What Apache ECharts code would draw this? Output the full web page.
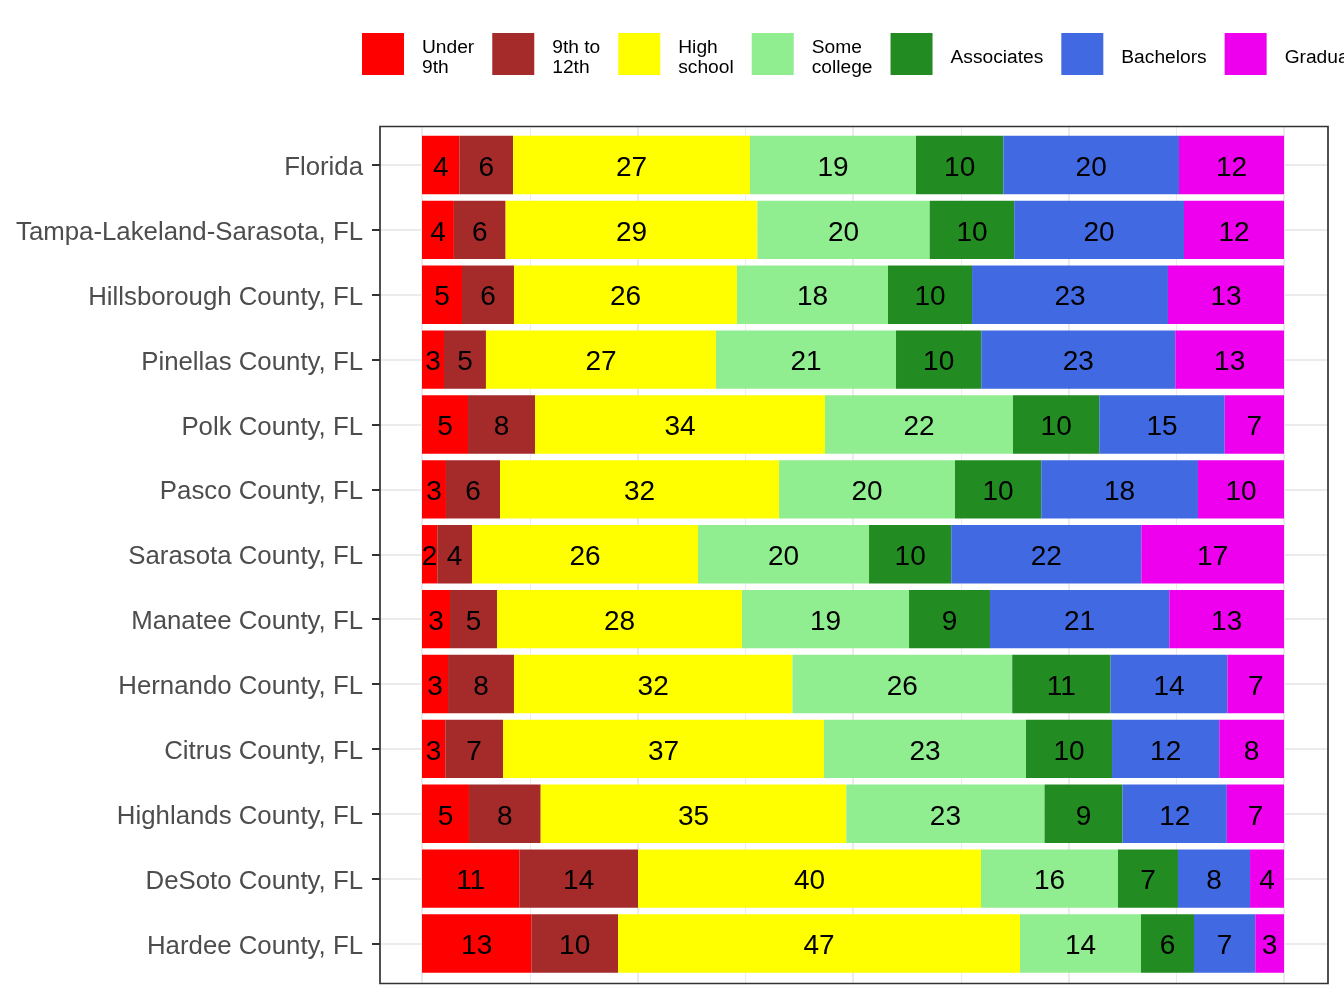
<!DOCTYPE html>
<html>
<head>
<meta charset="utf-8">
<title>Educational attainment</title>
<script src="https://cdn.jsdelivr.net/npm/echarts@6/dist/echarts.min.js"></script>
<style>
  html, body { margin: 0; padding: 0; background: #fff; }
  #chart { width: 1344px; height: 1008px; }
</style>
</head>
<body>
<div id="chart"></div>
<script>
// counties, top to bottom
var counties = ['Florida', 'Tampa-Lakeland-Sarasota, FL', 'Hillsborough County, FL',
  'Pinellas County, FL', 'Polk County, FL', 'Pasco County, FL', 'Sarasota County, FL',
  'Manatee County, FL', 'Hernando County, FL', 'Citrus County, FL',
  'Highlands County, FL', 'DeSoto County, FL', 'Hardee County, FL'];

// share of population (%) per attainment level
var underNinth  = [4.33, 3.7, 4.64, 2.55, 5.34, 2.78, 1.77, 3.25, 3.02, 2.70, 5.45, 11.29, 12.68];
var ninthTo12th = [6.23, 6.0, 6.03, 4.87, 7.77, 6.27, 4.03, 5.45, 7.65, 6.70, 8.32, 13.77, 10.06];
var highSchool  = [27.49, 29.2, 25.87, 26.69, 33.64, 32.37, 26.22, 28.42, 32.3, 37.24, 35.45, 39.79, 46.63];
var someCollege = [19.26, 20.0, 17.52, 20.88, 21.81, 20.41, 19.84, 19.38, 25.5, 23.43, 23.0, 15.89, 14.04];
var associates  = [10.13, 9.8, 9.75, 9.89, 10.01, 10.01, 9.54, 9.39, 11.41, 9.98, 9.05, 6.96, 6.15];
var bachelors   = [20.38, 19.7, 22.73, 22.51, 14.55, 18.18, 22.05, 20.80, 13.55, 12.44, 12.1, 8.36, 7.11];
var graduate    = [12.18, 11.6, 13.46, 12.61, 6.88, 9.98, 16.55, 13.31, 6.57, 7.51, 6.63, 3.94, 3.33];

var levelNames   = ['Under 9th', '9th to 12th', 'High school', 'Some college', 'Associates', 'Bachelors', 'Graduate'];
var legendLabels = ['Under\n9th', '9th to\n12th', 'High\nschool', 'Some\ncollege', 'Associates', 'Bachelors', 'Graduate'];
var levelColors  = ['#ff0000', '#a52a2a', '#ffff00', '#90ee90', '#228b22', '#4169e1', '#ee00ee'];
var levelData    = [underNinth, ninthTo12th, highSchool, someCollege, associates, bachelors, graduate];

var FONT = "'Liberation Sans', Arial, sans-serif";

function buildStackedBar(){
  var myChart = echarts.init(document.getElementById('chart'), null, {renderer: 'canvas'});

  // panel geometry (px)
  var panelLeft = 380, panelTop = 126.5, panelW = 948, panelH = 857;
  var barTop = 132.5, barH = 843.5;
  var band = barH / counties.length;

  var series = [];
  for (var i = 0; i < levelNames.length; i++) {
    series.push({
      name: levelNames[i],
      type: 'bar',
      stack: 'total',
      xAxisIndex: 0,
      yAxisIndex: 0,
      barWidth: '90%',
      itemStyle: {color: levelColors[i]},
      label: {
        show: true,
        position: 'inside',
        offset: [0, 3],
        color: '#000',
        fontSize: 28,
        fontFamily: FONT,
        textBorderWidth: 0,
        formatter: function(p){ return Math.round(p.value); }
      },
      emphasis: {disabled: true},
      data: levelData[i]
    });
  }

  var option = {
    animation: false,
    legend: {
      data: levelNames,
      left: 362,
      top: 30,
      padding: 0,
      width: 1400,
      itemWidth: 42,
      itemHeight: 42,
      itemGap: 18,
      icon: 'rect',
      selectedMode: false,
      // small spacer line on top pushes the text a bit below the key centre, as in ggplot
      formatter: function(name){ return '{s| }\n' + legendLabels[levelNames.indexOf(name)]; },
      textStyle: {
        fontSize: 19.2,
        lineHeight: 20,
        color: '#000',
        fontFamily: FONT,
        padding: [0, 0, 0, 13],
        rich: {
          s: {fontSize: 1, lineHeight: 8}
        }
      }
    },
    grid: [
      {left: 422, top: barTop, width: 862, height: barH},
      {left: 422, top: panelTop, width: 862, height: panelH},
      {left: panelLeft, top: barTop + band / 2, width: panelW, height: band * (counties.length - 1)}
    ],
    xAxis: [
      {gridIndex: 0, type: 'value', min: 0, max: 100, show: false},
      {
        gridIndex: 1, type: 'value', min: 0, max: 100, interval: 25,
        axisLine: {show: false}, axisTick: {show: false}, axisLabel: {show: false},
        splitLine: {show: true, lineStyle: {color: '#ebebeb', width: 2}},
        minorTick: {show: false, splitNumber: 2},
        minorSplitLine: {show: true, lineStyle: {color: '#ebebeb', width: 1}}
      },
      {gridIndex: 2, type: 'value', show: false}
    ],
    yAxis: [
      {gridIndex: 0, type: 'category', data: counties, inverse: true, show: false},
      {gridIndex: 1, type: 'value', show: false},
      {
        gridIndex: 2, type: 'category', data: counties, inverse: true, boundaryGap: false,
        axisLine: {show: false},
        axisTick: {show: true, length: 8, lineStyle: {color: '#333333', width: 2}},
        axisLabel: {
          color: '#4d4d4d', fontSize: 25.8, margin: 17, fontFamily: FONT,
          verticalAlign: 'top', lineHeight: 6
        },
        splitLine: {show: true, lineStyle: {color: '#ebebeb', width: 2}}
      }
    ],
    graphic: [{
      type: 'rect',
      z: 100,
      shape: {x: panelLeft, y: panelTop, width: panelW, height: panelH},
      style: {fill: 'none', stroke: '#333333', lineWidth: 1.7}
    }],
    series: series
  };
  myChart.setOption(option);
}
buildStackedBar();
</script>
</body>
</html>
